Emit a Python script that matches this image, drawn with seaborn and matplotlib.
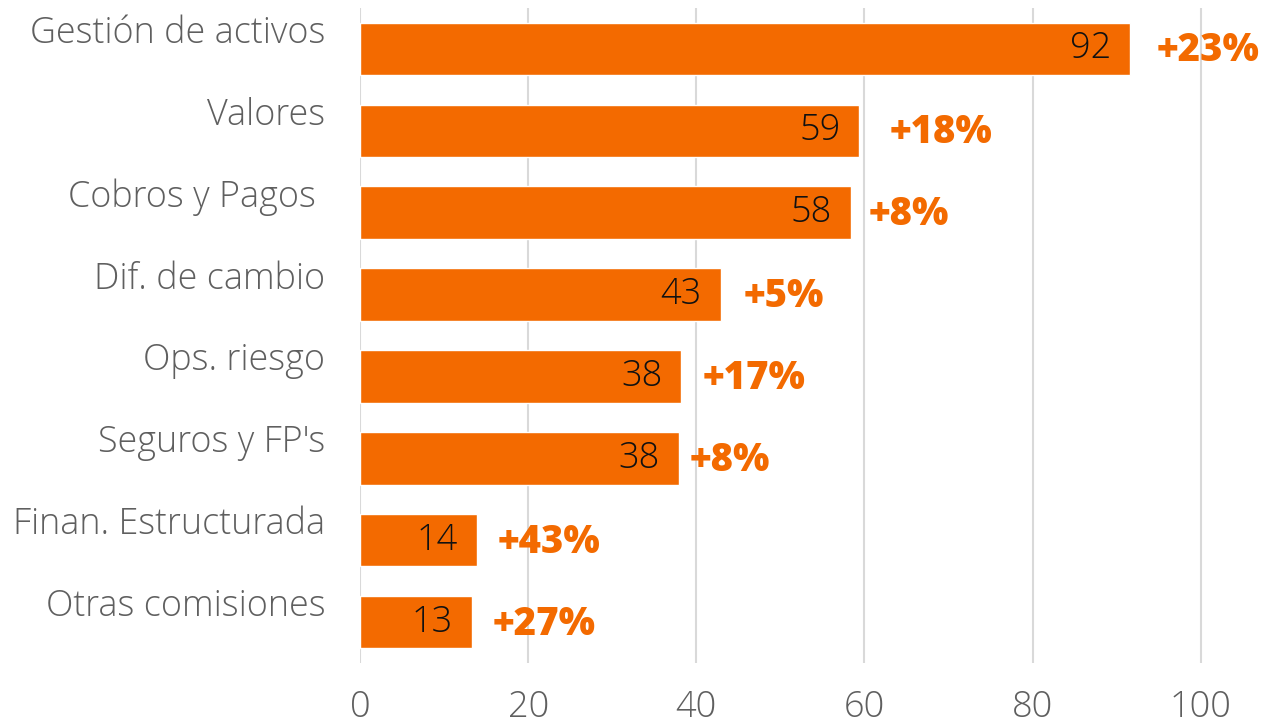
import matplotlib
matplotlib.use("Agg")
import matplotlib.pyplot as plt
import matplotlib.transforms as mtransforms
import seaborn as sns
import pandas as pd

categories = ["Gestión de activos", "Valores", "Cobros y Pagos ", "Dif. de cambio",
              "Ops. riesgo", "Seguros y FP's", "Finan. Estructurada", "Otras comisiones"]
values = [91.6, 59.4, 58.4, 42.9, 38.2, 37.9, 13.9, 13.3]
value_labels = ["92", "59", "58", "43", "38", "38", "14", "13"]
pct_labels = ["+23%", "+18%", "+8%", "+5%", "+17%", "+8%", "+43%", "+27%"]
pct_offsets_px = [27, 30, 18, 23, 21, 11, 21, 21]
x_ticks = [0, 20, 40, 60, 80, 100]

ORANGE = "#F36A00"
GREY = "#5F5F5F"

sns.set_theme(style="white")
plt.rcParams["font.family"] = ["Open Sans", "DejaVu Sans"]

fig = plt.figure(figsize=(12.68, 7.25), dpi=100)
ax = fig.add_axes([360 / 1268, 1 - 663 / 725, 1 - 360 / 1268, (663 - 8) / 725])

df = pd.DataFrame({"cat": categories, "val": values})
sns.barplot(data=df, x="val", y="cat", orient="h", color=ORANGE, saturation=1,
            width=0.64, ax=ax, zorder=2)

ax.set_xlim(0, 108)
ax.set_ylim(7.5, -0.5)
ax.set_xticks(x_ticks)
ax.set_xticklabels([str(t) for t in x_ticks])
ax.grid(axis="x", color="#D9D9D9", linewidth=1.5, zorder=0)
ax.grid(axis="y", visible=False)
ax.set_axisbelow(True)
for s in ax.spines.values():
    s.set_visible(False)
ax.set_xlabel("")
ax.set_ylabel("")

ax.tick_params(axis="x", length=0, pad=19, labelsize=26, labelcolor=GREY)
ax.tick_params(axis="y", length=0, pad=25, labelsize=25.8, labelcolor=GREY)

shift = mtransforms.ScaledTranslation(0, 20 / 100, fig.dpi_scale_trans)
for lbl in ax.get_yticklabels():
    lbl.set_transform(lbl.get_transform() + shift)
    lbl.set_fontweight("light")
for lbl in ax.get_xticklabels():
    lbl.set_fontweight("light")

for i, (v, vl, pl, off) in enumerate(zip(values, value_labels, pct_labels, pct_offsets_px)):
    ax.annotate(vl, xy=(v, i), xytext=(-19, 0), textcoords="offset pixels",
                ha="right", va="center", fontsize=26, color="#111111",
                fontweight="light", zorder=3)
    ax.annotate(pl, xy=(v, i), xytext=(off, -2), textcoords="offset pixels",
                ha="left", va="center", fontsize=27.5, color=ORANGE,
                fontweight="heavy", zorder=3)

fig.savefig("out.png", dpi=100)
